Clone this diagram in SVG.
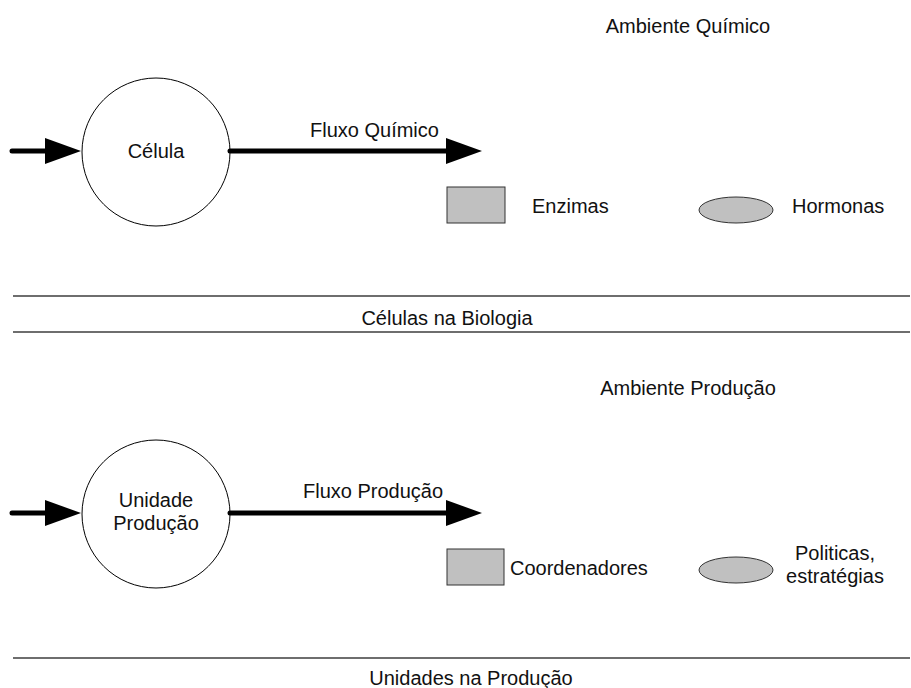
<svg xmlns="http://www.w3.org/2000/svg" width="911" height="688" viewBox="0 0 911 688">
  <style>
    text { font-family: "Liberation Sans", Arial, sans-serif; font-size: 20px; fill: #111; }
    .mid { text-anchor: middle; }
    .unit { fill: #fff; stroke: #000; stroke-width: 1; }
    .box { fill: #c0c0c0; stroke: #333; stroke-width: 1; }
    .flow { stroke: #000; stroke-width: 5; stroke-linecap: round; fill: none; marker-end: url(#head); }
    .rule { stroke: #6e6e6e; stroke-width: 2; }
  </style>
  <defs>
    <marker id="head" markerUnits="userSpaceOnUse" markerWidth="36" markerHeight="26" refX="2" refY="13" orient="auto">
      <path d="M0,0 L36,13 L0,26 Z" fill="#000"/>
    </marker>
  </defs>

  <rect width="911" height="688" fill="#fff"/>

  <!-- Biology panel -->
  <g id="ambiente-quimico"><text class="mid" x="688" y="33">Ambiente Químico</text></g>
  <g id="celula">
    <circle class="unit" cx="156" cy="152" r="74"/>
    <text class="mid" x="156" y="158">Célula</text>
  </g>
  <g id="enzimas">
    <rect class="box" x="447" y="187" width="58" height="36"/>
    <text x="532" y="213">Enzimas</text>
  </g>
  <g id="hormonas">
    <ellipse class="box" cx="736" cy="210" rx="37" ry="13"/>
    <text x="792" y="213">Hormonas</text>
  </g>
  <g id="titulo-biologia">
    <line class="rule" x1="13" y1="296" x2="910" y2="296"/>
    <text class="mid" x="447" y="325">Células na Biologia</text>
    <line class="rule" x1="13" y1="332" x2="910" y2="332"/>
  </g>

  <!-- Production panel -->
  <g id="ambiente-producao"><text class="mid" x="688" y="395">Ambiente Produção</text></g>
  <g id="unidade-producao">
    <circle class="unit" cx="156" cy="514" r="74"/>
    <text class="mid" x="156" y="507">Unidade</text>
    <text class="mid" x="156" y="530">Produção</text>
  </g>
  <g id="coordenadores">
    <rect class="box" x="447" y="549" width="57" height="36"/>
    <text x="510" y="575">Coordenadores</text>
  </g>
  <g id="politicas">
    <ellipse class="box" cx="736" cy="570" rx="37" ry="13"/>
    <text class="mid" x="835" y="560">Politicas,</text>
    <text class="mid" x="835" y="583">estratégias</text>
  </g>
  <g id="titulo-producao">
    <line class="rule" x1="13" y1="658" x2="910" y2="658"/>
    <text class="mid" x="471" y="685">Unidades na Produção</text>
  </g>

  <!-- Connectors -->
  <g id="connectors">
    <line class="flow" x1="12" y1="151" x2="47" y2="151"/>
    <line class="flow" x1="230" y1="151" x2="448" y2="151"/>
    <text x="310" y="137">Fluxo Químico</text>
    <line class="flow" x1="12" y1="513" x2="47" y2="513"/>
    <line class="flow" x1="230" y1="513" x2="448" y2="513"/>
    <text x="303" y="498">Fluxo Produção</text>
  </g>
</svg>
